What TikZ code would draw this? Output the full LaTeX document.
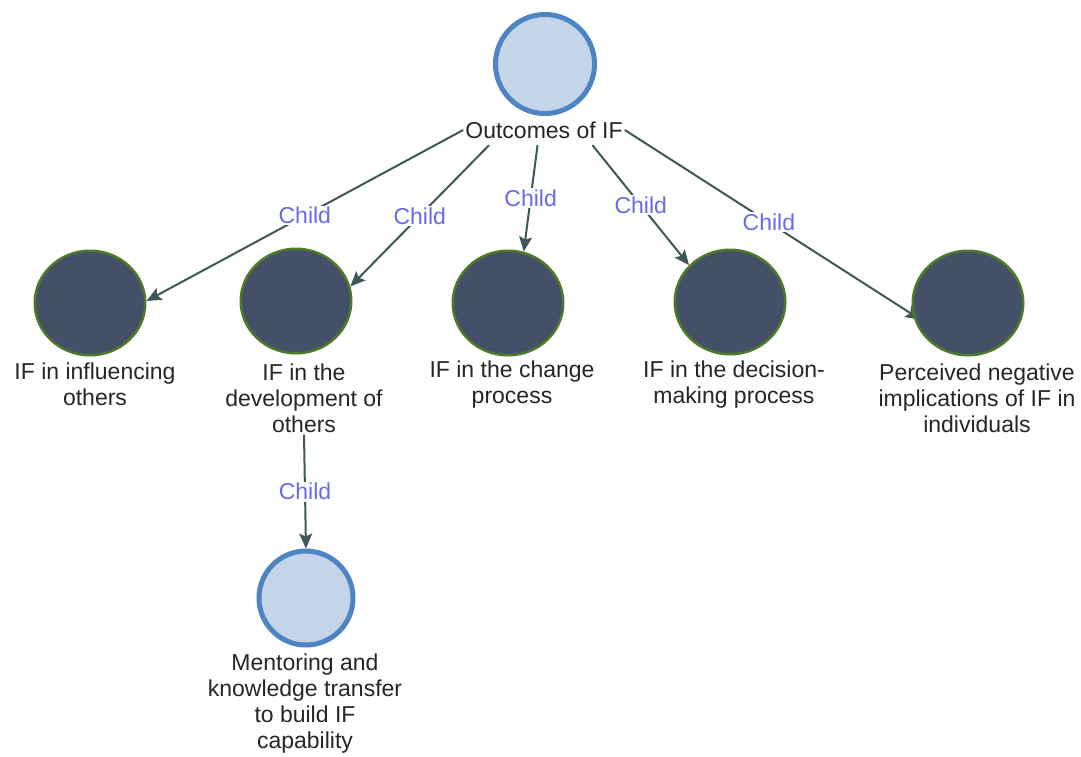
\documentclass[tikz,border=0pt]{standalone}
\usepackage{fontspec}
\setmainfont{Liberation Sans}
\usetikzlibrary{arrows.meta,shapes.geometric,calc}
\pgfdeclarelayer{paper}
\pgfdeclarelayer{background}
\pgfsetlayers{paper,background,main}

\definecolor{edgecol}{HTML}{3E5858}
\definecolor{childcol}{HTML}{6A6AE6}
\definecolor{darkfill}{HTML}{435068}
\definecolor{greenrim}{HTML}{4C7A2A}
\definecolor{lightfill}{HTML}{C4D5E9}
\definecolor{bluerim}{HTML}{4F84C2}
\definecolor{txt}{HTML}{262626}

\tikzset{
  darknode/.style={ellipse, draw=greenrim, line width=2.5pt, fill=darkfill,
    minimum width=110.5pt, minimum height=104.5pt, inner sep=0pt},
  lightnode/.style={circle, draw=bluerim, line width=5pt, fill=lightfill, inner sep=0pt},
  caption/.style={text=txt, font=\fontsize{23}{26}\selectfont, align=center, inner sep=2pt},
  edge/.style={draw=edgecol, line width=2pt,
    -{Stealth[length=15pt,width=13pt,inset=3pt]}},
  childlabel/.style={text=childcol, font=\fontsize{23}{26}\selectfont,
    fill=white, inner sep=1.5pt},
}

\begin{document}
\begin{tikzpicture}[x=1pt,y=-1pt]
\begin{pgfonlayer}{paper}
\path[use as bounding box, fill=white] (0,0) rectangle (1081,756);
\end{pgfonlayer}

% root
\node[lightnode, minimum size=99pt] (cT) at (545,64) {};
\node[caption, minimum height=30pt] (lT) at (544,130) {Outcomes of IF};

% first level
\node[darknode] (c1) at (90,303) {};
\node[darknode] (c2) at (296,301) {};
\node[darknode] (c3) at (508,303) {};
\node[darknode] (c4) at (730,302) {};
\node[darknode] (c5) at (968,303) {};

\node[caption] (l1) at (95,384) {IF in influencing\\others};
\node[caption] (l2) at (304,398) {IF in the\\development of\\others};
\node[caption] (l3) at (512,385) {IF in the change\\process};
\node[caption] (l4) at (734,385) {IF in the decision-\\making process};
\node[caption] (l5) at (977,398) {Perceived negative\\implications of IF in\\individuals};

% second level
\node[lightnode, minimum size=94pt] (cB) at (306,598) {};
\node[caption] (lB) at (305,704) {Mentoring and\\knowledge transfer\\to build IF\\capability};

% connectors
\begin{pgfonlayer}{background}
\draw[edge] (lT.west) -- (c1.2) node[childlabel, pos=.5] {Child};
\draw[edge] ($(lT.south west)!0.16!(lT.south east)$) -- (c2.15) node[childlabel, pos=.5] {Child};
\draw[edge] ($(lT.south west)!0.46!(lT.south east)$) -- (c3.73) node[childlabel, pos=.5] {Child};
\draw[edge] ($(lT.south west)!0.80!(lT.south east)$) -- (c4.138) node[childlabel, pos=.5] {Child};
\draw[edge, shorten >=-9pt] (lT.east) -- (c5.192) node[childlabel, pos=.5] {Child};
\draw[edge] (l2.south) -- (cB.north) node[childlabel, pos=.5] {Child};
\end{pgfonlayer}
\end{tikzpicture}
\end{document}
